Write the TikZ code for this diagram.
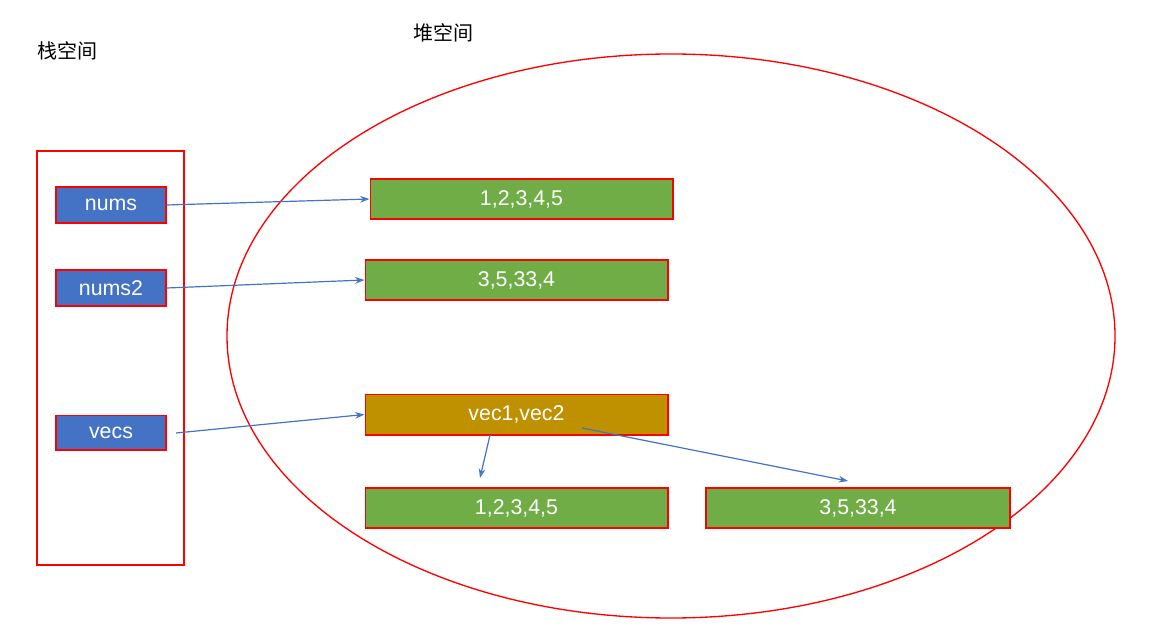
\documentclass[tikz,border=0pt]{standalone}
\usepackage{fontspec}
\setmainfont{Liberation Sans}
\newfontfamily\cjk{Noto Sans CJK SC}
\usetikzlibrary{arrows.meta}
\definecolor{bl}{HTML}{4472C4}
\definecolor{gr}{HTML}{70AD47}
\definecolor{gd}{HTML}{BF9000}
\begin{document}
\begin{tikzpicture}[x=0.75pt,y=-0.75pt,
  redline/.style={draw=red,line width=1pt},
  var/.style={redline,fill=bl,text=white,font=\fontsize{16}{18}\selectfont,inner sep=0pt},
  cell/.style={redline,fill=gr,text=white,font=\fontsize{16}{18}\selectfont,inner sep=0pt},
  ptr/.style={draw=bl,line width=0.9pt,-{Stealth[length=7pt,width=5pt,open]}}]
\useasboundingbox (0,0) rectangle (1155,641);
\node[font=\cjk\fontsize{15}{18}\selectfont] (lstack) at (67,51) {栈空间};
\node[font=\cjk\fontsize{15}{18}\selectfont] (lheap) at (443,33) {堆空间};
\draw[redline] (37,151) rectangle (184,565);
\draw[redline] (671,336) ellipse [x radius=444, y radius=282];
\node[var,minimum width=82.5pt,minimum height=27pt] (nums) at (111,205) {nums};
\node[var,minimum width=82.5pt,minimum height=27pt] (nums2) at (111,288) {nums2};
\node[var,minimum width=82.5pt,minimum height=26pt] (vecs) at (111,432.5) {vecs};
\node[cell,minimum width=227pt,minimum height=30pt] (a) at (521.5,199) {1,2,3,4,5};
\node[cell,minimum width=227pt,minimum height=30pt] (b) at (516.5,280) {3,5,33,4};
\node[cell,fill=gd,minimum width=227pt,minimum height=30.5pt] (v) at (516.5,414.5) {vec1,vec2};
\node[cell,minimum width=227pt,minimum height=30pt] (c) at (516.5,508) {1,2,3,4,5};
\node[cell,minimum width=228pt,minimum height=30pt] (d) at (858,508) {3,5,33,4};
\coordinate (v1) at (490,435);
\coordinate (v2) at (582,428);
\coordinate (s3) at (176,433);
\draw[ptr] (nums.east) -- (a.west);
\draw[ptr] (nums2.east) -- (b.west);
\draw[ptr] (s3) -- (v.west);
\draw[ptr] (v1) -- (480,478);
\draw[ptr] (v2) -- (848,481);
\end{tikzpicture}
\end{document}
